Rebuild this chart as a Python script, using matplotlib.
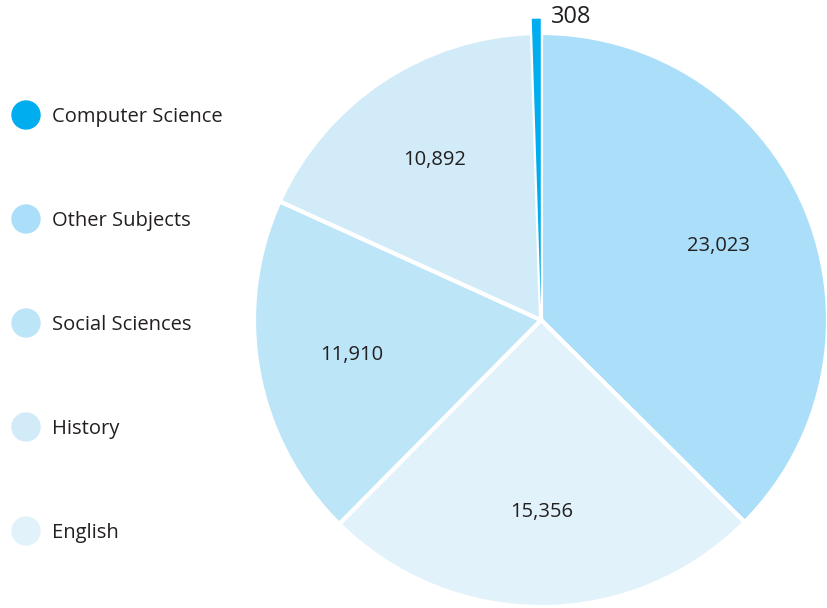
import matplotlib.pyplot as plt

# Data (clockwise from 12 o'clock)
subjects = ['Other Subjects', 'English', 'Social Sciences', 'History', 'Computer Science']
counts = [23023, 15356, 11910, 10892, 308]
colors = ['#abdff9', '#e1f2fb', '#bde5f8', '#d1ebf9', '#00aeef']

# Legend order (top to bottom)
legend_subjects = ['Computer Science', 'Other Subjects', 'Social Sciences', 'History', 'English']

text_color = '#231f20'
plt.rcParams['font.family'] = ['Open Sans', 'DejaVu Sans']

total = sum(counts)
R = 287  # pie radius in pixels

fig = plt.figure(figsize=(8.28, 6.08), dpi=100)
ax = fig.add_axes([0, 0, 1, 1])

explode = [0.05 if s == 'Computer Science' else 0 for s in subjects]
wedges, texts, autotexts = ax.pie(
    counts, colors=colors, startangle=90, counterclock=False,
    explode=explode, radius=1.0,
    autopct=lambda p: f"{round(p * total / 100):,}", pctdistance=0.67,
    wedgeprops=dict(edgecolor='white', linewidth=3),
    textprops=dict(color=text_color, fontsize=14.5))

for w in wedges:
    w.set_clip_on(False)

# small slice: no white edge, label outside the pie
cs = subjects.index('Computer Science')
wedges[cs].set_linewidth(0)
autotexts[cs].set_position((0.035, 1.055))
autotexts[cs].set_ha('left')
autotexts[cs].set_va('center')
autotexts[cs].set_fontsize(17)

ax.set_xlim(-541 / R, 287 / R)
ax.set_ylim(-288 / R, 320 / R)
ax.set_aspect('equal')
ax.axis('off')

# legend (drawn in the same data units as the pie)
color_of = dict(zip(subjects, colors))
for i, s in enumerate(legend_subjects):
    py = 115 + 104 * i
    x = (26 - 541) / R
    y = (320 - py) / R
    ax.add_patch(plt.Circle((x, y), 14 / R, color=color_of[s], clip_on=False))
    ax.text((52 - 541) / R, y - 2 / R, s, ha='left', va='center', fontsize=14.5, color=text_color)

fig.savefig('out.png', dpi=100)
